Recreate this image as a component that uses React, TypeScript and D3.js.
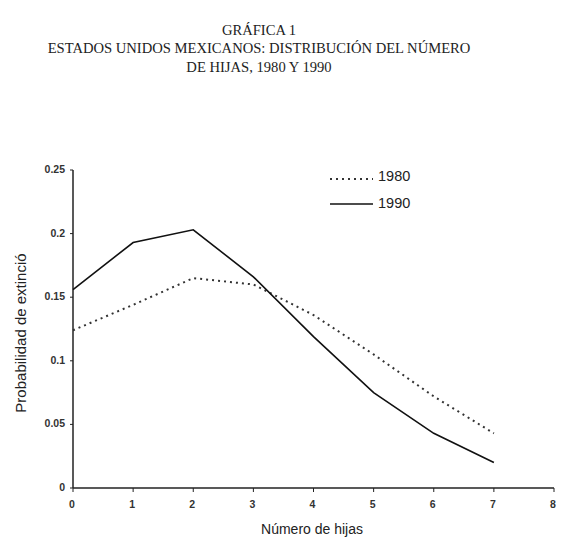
import React from "react";
import * as d3 from "d3";

const hijas = [0, 1, 2, 3, 4, 5, 6, 7];
const serie1980 = [0.124, 0.144, 0.165, 0.16, 0.136, 0.105, 0.072, 0.043];
const serie1990 = [0.156, 0.193, 0.203, 0.166, 0.119, 0.075, 0.043, 0.02];
const xTicks = [0, 1, 2, 3, 4, 5, 6, 7, 8];
const yTicks = [0, 0.05, 0.1, 0.15, 0.2, 0.25];
const yTickLabels = ["0", "0.05", "0.1", "0.15", "0.2", "0.25"];
const titleLines = [
  "GRÁFICA 1",
  "ESTADOS UNIDOS MEXICANOS: DISTRIBUCIÓN DEL NÚMERO",
  "DE HIJAS, 1980 Y 1990",
];

export default function App() {
  const W = 578, H = 559;
  const x = d3.scaleLinear().domain([0, 8]).range([73, 554]);
  const y = d3.scaleLinear().domain([0, 0.25]).range([488, 170]);
  const line = d3.line<number>().x((_, i) => x(hijas[i])).y((d) => y(d));
  const sans = "'Liberation Sans', Arial, sans-serif";
  const ink = "#222";
  return (
    <svg width={W} height={H} style={{ position: "absolute", left: 0, top: 0, background: "#fff" }}>
      <rect width={W} height={H} fill="#fff" />
      {titleLines.map((t, i) => (
        <text key={i} x={259} y={35 + i * 18.3} textAnchor="middle"
          fontFamily="'Liberation Serif', 'Times New Roman', serif" fontSize={14.6} fill="#222">{t}</text>
      ))}
      {/* axes */}
      <line x1={x(0)} x2={x(0)} y1={y(0.25)} y2={y(0)} stroke={ink} strokeWidth={1.5} />
      <line x1={x(0)} x2={x(8)} y1={y(0)} y2={y(0)} stroke={ink} strokeWidth={1.5} />
      {yTicks.map((t, i) => (
        <g key={i}>
          <line x1={x(0) - 3} x2={x(0)} y1={y(t)} y2={y(t)} stroke={ink} strokeWidth={1} />
          <text x={x(0) - 8} y={y(t) + 3} textAnchor="end" fontFamily={sans} fontSize={10.5}
            fontWeight="bold" fill="#333">{yTickLabels[i]}</text>
        </g>
      ))}
      {xTicks.map((t) => (
        <g key={t}>
          <line x1={x(t)} x2={x(t)} y1={y(0)} y2={y(0) + 4} stroke={ink} strokeWidth={1} />
          <text x={x(t) - 1} y={y(0) + 20} textAnchor="middle" fontFamily={sans} fontSize={10.5}
            fontWeight="bold" fill="#333">{t}</text>
        </g>
      ))}
      <text x={312} y={534} textAnchor="middle" fontFamily={sans} fontSize={14} fill="#222">Número de hijas</text>
      <text transform={`translate(26,333) rotate(-90)`} textAnchor="middle" fontFamily={sans}
        fontSize={15} fill="#222">Probabilidad de extinció</text>
      {/* series */}
      <path d={line(serie1980) ?? ""} fill="none" stroke="#333" strokeWidth={2} strokeDasharray="2,4" />
      <path d={line(serie1990) ?? ""} fill="none" stroke="#111" strokeWidth={1.6} />
      {/* legend */}
      <line x1={330} x2={373} y1={179} y2={179} stroke="#333" strokeWidth={2} strokeDasharray="2,4" />
      <text x={378} y={181} fontFamily={sans} fontSize={14.5} fill="#222">1980</text>
      <line x1={330} x2={373} y1={204} y2={204} stroke="#111" strokeWidth={1.6} />
      <text x={378} y={208} fontFamily={sans} fontSize={14.5} fill="#222">1990</text>
    </svg>
  );
}
